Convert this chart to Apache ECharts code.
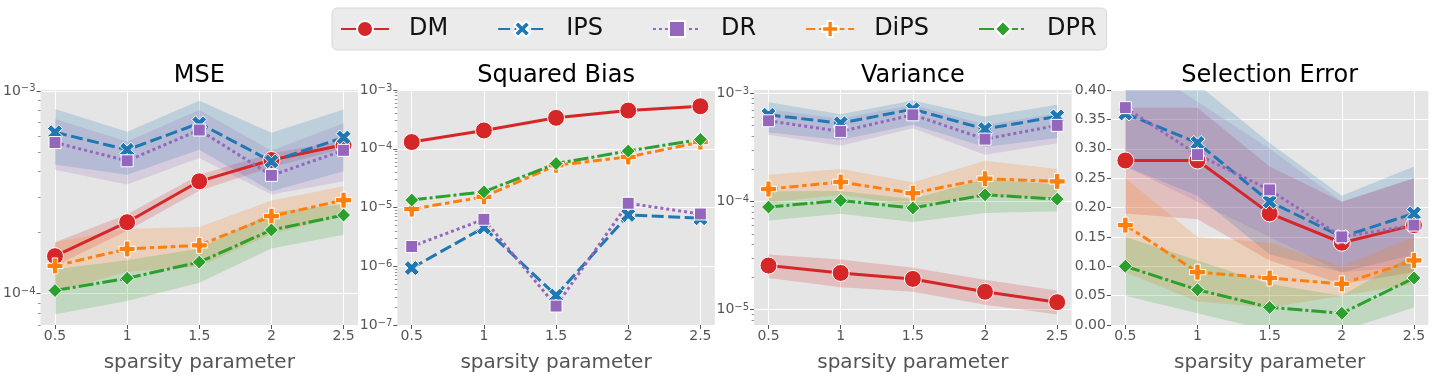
<!DOCTYPE html>
<html>
<head>
<meta charset="utf-8">
<script src="https://cdn.jsdelivr.net/npm/echarts@6/dist/echarts.min.js"></script>
<style>
html,body{margin:0;padding:0;background:#fff;}
#c{width:1440px;height:380px;}
</style>
</head>
<body>
<div id="c"></div>
<script>
// ---------------- data ----------------
const X = [0.5, 1, 1.5, 2, 2.5];
const METHODS = ['DM', 'IPS', 'DR', 'DiPS', 'DPR'];
const TITLES = ['MSE', 'Squared Bias', 'Variance', 'Selection Error'];
const X_NAME = 'sparsity parameter';

// MSE (mean, lower, upper)
const MSE_DM      = [1.53e-4, 2.25e-4, 3.58e-4, 4.56e-4, 5.42e-4];
const MSE_DM_LO   = [1.37e-4, 2.04e-4, 3.22e-4, 4.20e-4, 5.18e-4];
const MSE_DM_HI   = [1.79e-4, 2.46e-4, 3.86e-4, 4.93e-4, 5.66e-4];
const MSE_IPS     = [6.25e-4, 5.12e-4, 6.92e-4, 4.49e-4, 5.89e-4];
const MSE_IPS_LO  = [4.33e-4, 3.86e-4, 5.12e-4, 3.20e-4, 4.01e-4];
const MSE_IPS_HI  = [8.13e-4, 6.29e-4, 8.93e-4, 6.22e-4, 8.10e-4];
const MSE_DR      = [5.56e-4, 4.52e-4, 6.41e-4, 3.83e-4, 5.09e-4];
const MSE_DR_LO   = [4.08e-4, 3.45e-4, 4.66e-4, 3.08e-4, 3.58e-4];
const MSE_DR_HI   = [7.26e-4, 5.62e-4, 8.04e-4, 5.06e-4, 6.92e-4];
const MSE_DIPS    = [1.37e-4, 1.66e-4, 1.73e-4, 2.41e-4, 2.89e-4];
const MSE_DIPS_LO = [1.02e-4, 1.28e-4, 1.36e-4, 1.97e-4, 2.42e-4];
const MSE_DIPS_HI = [1.79e-4, 2.09e-4, 2.13e-4, 2.88e-4, 3.38e-4];
const MSE_DPR     = [1.035e-4, 1.19e-4, 1.43e-4, 2.06e-4, 2.44e-4];
const MSE_DPR_LO  = [7.9e-5, 9.2e-5, 1.13e-4, 1.67e-4, 1.95e-4];
const MSE_DPR_HI  = [1.32e-4, 1.46e-4, 1.67e-4, 2.51e-4, 2.77e-4];

// Squared Bias
const SB_DM   = [1.30e-4, 2.05e-4, 3.36e-4, 4.47e-4, 5.29e-4];
const SB_IPS  = [9.3e-7, 4.56e-6, 3.18e-7, 7.46e-6, 6.56e-6];
const SB_DR   = [2.17e-6, 6.3e-6, 2.1e-7, 1.18e-5, 7.76e-6];
const SB_DIPS = [9.4e-6, 1.52e-5, 5.24e-5, 7.25e-5, 1.30e-4];
const SB_DPR  = [1.34e-5, 1.85e-5, 5.6e-5, 9.16e-5, 1.44e-4];

// Variance
const VAR_DM      = [2.55e-5, 2.18e-5, 1.92e-5, 1.46e-5, 1.17e-5];
const VAR_DM_LO   = [1.96e-5, 1.61e-5, 1.46e-5, 1.11e-5, 9.0e-6];
const VAR_DM_HI   = [3.22e-5, 2.90e-5, 2.43e-5, 1.89e-5, 1.50e-5];
const VAR_IPS     = [6.31e-4, 5.28e-4, 7.11e-4, 4.66e-4, 6.10e-4];
const VAR_IPS_LO  = [4.34e-4, 3.70e-4, 5.10e-4, 3.18e-4, 3.85e-4];
const VAR_IPS_HI  = [8.26e-4, 6.40e-4, 8.56e-4, 6.10e-4, 7.80e-4];
const VAR_DR      = [5.56e-4, 4.43e-4, 6.31e-4, 3.76e-4, 5.04e-4];
const VAR_DR_LO   = [4.12e-4, 3.27e-4, 4.75e-4, 2.70e-4, 3.45e-4];
const VAR_DR_HI   = [7.10e-4, 5.80e-4, 7.80e-4, 5.10e-4, 6.50e-4];
const VAR_DIPS    = [1.30e-4, 1.51e-4, 1.19e-4, 1.62e-4, 1.53e-4];
const VAR_DIPS_LO = [9.7e-5, 1.15e-4, 9.2e-5, 1.11e-4, 1.07e-4];
const VAR_DIPS_HI = [1.76e-4, 1.99e-4, 1.50e-4, 2.37e-4, 1.99e-4];
const VAR_DPR     = [8.86e-5, 1.02e-4, 8.68e-5, 1.15e-4, 1.05e-4];
const VAR_DPR_LO  = [6.64e-5, 7.7e-5, 6.45e-5, 7.8e-5, 8.1e-5];
const VAR_DPR_HI  = [1.24e-4, 1.25e-4, 1.05e-4, 1.61e-4, 1.43e-4];

// Selection Error
const SE_DM      = [0.28, 0.28, 0.19, 0.14, 0.17];
const SE_DM_LO   = [0.19, 0.18, 0.11, 0.07, 0.09];
const SE_DM_HI   = [0.37, 0.37, 0.27, 0.21, 0.25];
const SE_IPS     = [0.36, 0.31, 0.21, 0.15, 0.19];
const SE_IPS_LO  = [0.27, 0.22, 0.12, 0.09, 0.12];
const SE_IPS_HI  = [0.46, 0.41, 0.31, 0.22, 0.27];
const SE_DR      = [0.37, 0.29, 0.23, 0.15, 0.17];
const SE_DR_LO   = [0.27, 0.21, 0.15, 0.09, 0.10];
const SE_DR_HI   = [0.46, 0.38, 0.30, 0.21, 0.25];
const SE_DIPS    = [0.17, 0.09, 0.08, 0.07, 0.11];
const SE_DIPS_LO = [0.09, 0.04, 0.03, 0.05, 0.07];
const SE_DIPS_HI = [0.25, 0.15, 0.14, 0.10, 0.15];
const SE_DPR     = [0.10, 0.06, 0.03, 0.02, 0.08];
const SE_DPR_LO  = [0.05, 0.02, -0.01, -0.01, 0.03];
const SE_DPR_HI  = [0.15, 0.11, 0.07, 0.05, 0.12];

// axis ranges and ticks
const MSE_RANGE = [7.0e-5, 1.01e-3];
const SB_RANGE  = [9.99e-8, 1.001e-3];
const VAR_RANGE = [7.2e-6, 1.07e-3];
const SE_RANGE  = [0, 0.4];
const SE_TICK_STEP = 0.05;

// ---------------- styling ----------------
const FONT = 'DejaVu Sans';
const COLORS = {DM: '#d62728', IPS: '#1f77b4', DR: '#9467bd', DiPS: '#ff7f0e', DPR: '#2ca02c'};
const LW = 3;
const DASH = {DM: 'solid', IPS: [12, 4.5], DR: [3, 3], DiPS: [9, 3.75, 4.5, 3.75], DPR: [15, 3, 3, 3]};
const SYMBOL = {
  DM: 'circle',
  IPS: 'path://M1,0 L2,1 L3,0 L4,1 L3,2 L4,3 L3,4 L2,3 L1,4 L0,3 L1,2 L0,1 Z',
  DR: 'rect',
  DiPS: 'path://M1,0 L2,0 L2,1 L3,1 L3,2 L2,2 L2,3 L1,3 L1,2 L0,2 L0,1 L1,1 Z',
  DPR: 'diamond'
};
const SYMBOL_SIZE = {DM: 17, IPS: 15, DR: 12, DiPS: 16, DPR: 14};

const GRID_LEFT0 = 40.5, GRID_STEP = 356.8, GRID_W = 317.5, GRID_TOP = 90, GRID_H = 235;

const PANELS = [
  {range: MSE_RANGE, log: true,
   mean: {DM: MSE_DM, IPS: MSE_IPS, DR: MSE_DR, DiPS: MSE_DIPS, DPR: MSE_DPR},
   lo: {DM: MSE_DM_LO, IPS: MSE_IPS_LO, DR: MSE_DR_LO, DiPS: MSE_DIPS_LO, DPR: MSE_DPR_LO},
   hi: {DM: MSE_DM_HI, IPS: MSE_IPS_HI, DR: MSE_DR_HI, DiPS: MSE_DIPS_HI, DPR: MSE_DPR_HI}},
  {range: SB_RANGE, log: true,
   mean: {DM: SB_DM, IPS: SB_IPS, DR: SB_DR, DiPS: SB_DIPS, DPR: SB_DPR},
   lo: null, hi: null},
  {range: VAR_RANGE, log: true,
   mean: {DM: VAR_DM, IPS: VAR_IPS, DR: VAR_DR, DiPS: VAR_DIPS, DPR: VAR_DPR},
   lo: {DM: VAR_DM_LO, IPS: VAR_IPS_LO, DR: VAR_DR_LO, DiPS: VAR_DIPS_LO, DPR: VAR_DPR_LO},
   hi: {DM: VAR_DM_HI, IPS: VAR_IPS_HI, DR: VAR_DR_HI, DiPS: VAR_DIPS_HI, DPR: VAR_DPR_HI}},
  {range: SE_RANGE, log: false,
   mean: {DM: SE_DM, IPS: SE_IPS, DR: SE_DR, DiPS: SE_DIPS, DPR: SE_DPR},
   lo: {DM: SE_DM_LO, IPS: SE_IPS_LO, DR: SE_DR_LO, DiPS: SE_DIPS_LO, DPR: SE_DPR_LO},
   hi: {DM: SE_DM_HI, IPS: SE_IPS_HI, DR: SE_DR_HI, DiPS: SE_DIPS_HI, DPR: SE_DPR_HI}}
];

function decades(r) {
  const out = [];
  for (let e = Math.ceil(Math.log10(r[0]) - 1e-9); e <= Math.floor(Math.log10(r[1]) + 1e-9); e++) out.push(Math.pow(10, e));
  return out;
}
function minors(r) {
  const out = [];
  for (let e = Math.floor(Math.log10(r[0])); e <= Math.ceil(Math.log10(r[1])); e++) {
    for (let k = 2; k <= 9; k++) {
      const v = k * Math.pow(10, e);
      if (v > r[0] && v < r[1]) out.push(v);
    }
  }
  return out;
}
function logLabel(v) {
  const l = Math.log10(v);
  const e = Math.round(l);
  if (Math.abs(l - e) > 1e-3) return '';
  return '{b|10}{s|' + (e < 0 ? '\u2212' : '') + Math.abs(e) + '}';
}

const grids = [], xAxes = [], yAxes = [], series = [], titles = [];

PANELS.forEach((p, i) => {
  const left = GRID_LEFT0 + i * GRID_STEP;
  grids.push({left: left, top: GRID_TOP, width: GRID_W, height: GRID_H, show: true,
              backgroundColor: '#e5e5e5', borderWidth: 0});
  titles.push({text: TITLES[i], left: left + GRID_W / 2, top: 64, textAlign: 'center', padding: 0,
               textStyle: {fontFamily: FONT, fontSize: 24, fontWeight: 'normal', color: '#000'}});
  xAxes.push({
    type: 'value', gridIndex: i, min: 0.4, max: 2.6,
    axisLine: {show: false},
    axisTick: {show: true, customValues: X, length: 4, lineStyle: {color: '#555', width: 1}},
    axisLabel: {customValues: X, fontFamily: FONT, fontSize: 14, color: '#555', margin: 4,
                formatter: v => String(v)},
    splitLine: {show: true, lineStyle: {color: '#fff', width: 1}},
    name: X_NAME, nameLocation: 'middle', nameGap: 28,
    nameTextStyle: {fontFamily: FONT, fontSize: 20, color: '#555'}
  });
  const mainIdx = yAxes.length;
  if (p.log) {
    const dec = decades(p.range);
    yAxes.push({
      type: 'log', logBase: 10, gridIndex: i, position: 'left', min: p.range[0], max: p.range[1],
      axisLine: {show: false},
      axisTick: {show: true, customValues: dec, length: 4, lineStyle: {color: '#555', width: 1}},
      axisLabel: {customValues: dec, formatter: logLabel, margin: 5, color: '#555', fontFamily: FONT,
        rich: {
          b: {fontFamily: FONT, fontSize: 14, lineHeight: 14, color: '#555', verticalAlign: 'bottom'},
          s: {fontFamily: FONT, fontSize: 10, lineHeight: 10, color: '#555', verticalAlign: 'top', padding: [0, 0, 9, 0]}
        }},
      splitLine: {show: true, lineStyle: {color: '#fff', width: 1}}
    });
    yAxes.push({
      type: 'log', logBase: 10, gridIndex: i, position: 'left', min: p.range[0], max: p.range[1],
      axisLine: {show: false}, axisLabel: {show: false}, splitLine: {show: false},
      axisTick: {show: true, customValues: minors(p.range), length: 2.5, lineStyle: {color: '#777', width: 0.8}}
    });
  } else {
    yAxes.push({
      type: 'value', gridIndex: i, position: 'left', min: p.range[0], max: p.range[1], interval: SE_TICK_STEP,
      axisLine: {show: false},
      axisTick: {show: true, length: 4, lineStyle: {color: '#555', width: 1}},
      axisLabel: {fontFamily: FONT, fontSize: 14, color: '#555', margin: 5, formatter: v => v.toFixed(2)},
      splitLine: {show: true, lineStyle: {color: '#fff', width: 1}}
    });
  }
  // bands
  if (p.lo) {
    METHODS.forEach(m => {
      const lo = p.lo[m], hi = p.hi[m];
      series.push({
        type: 'custom', xAxisIndex: i, yAxisIndex: mainIdx, z: 1, silent: true, clip: true,
        data: X.map((x, k) => [x, lo[k], hi[k]]),
        encode: {x: 0, y: [1, 2]},
        renderItem: (params, api) => {
          if (params.dataIndex !== 0) return null;
          const up = X.map((x, k) => api.coord([x, hi[k]]));
          const dn = X.map((x, k) => api.coord([x, lo[k]])).reverse();
          const cs = params.coordSys;
          return {
            type: 'polygon',
            shape: {points: up.concat(dn)},
            style: {fill: COLORS[m], opacity: 0.2},
            clipPath: {type: 'rect', shape: {x: cs.x, y: cs.y, width: cs.width, height: cs.height}}
          };
        }
      });
    });
  }
  // lines
  METHODS.forEach(m => {
    series.push({
      type: 'line', name: m, xAxisIndex: i, yAxisIndex: mainIdx, z: 3,
      data: X.map((x, k) => [x, p.mean[m][k]]),
      symbol: SYMBOL[m], symbolSize: SYMBOL_SIZE[m], showSymbol: true,
      lineStyle: {color: COLORS[m], width: LW, type: DASH[m], cap: 'butt'},
      itemStyle: {color: COLORS[m], borderColor: '#fff', borderWidth: 1},
      emphasis: {disabled: true}
    });
  });
});

const chart = echarts.init(document.getElementById('c'), null, {renderer: 'canvas'});
chart.setOption({
  animation: false,
  textStyle: {fontFamily: FONT},
  title: titles,
  legend: {
    data: METHODS, left: 332, top: 8, orient: 'horizontal',
    itemWidth: 48, itemHeight: 20, itemGap: 49, padding: [9, 10, 9, 8],
    backgroundColor: '#ebebeb', borderColor: '#d8d8d8', borderWidth: 1, borderRadius: 5,
    selectedMode: false,
    textStyle: {fontFamily: FONT, fontSize: 24, color: '#111', padding: [0, 0, 0, 15]}
  },
  grid: grids,
  xAxis: xAxes,
  yAxis: yAxes,
  series: series
});
</script>
</body>
</html>
